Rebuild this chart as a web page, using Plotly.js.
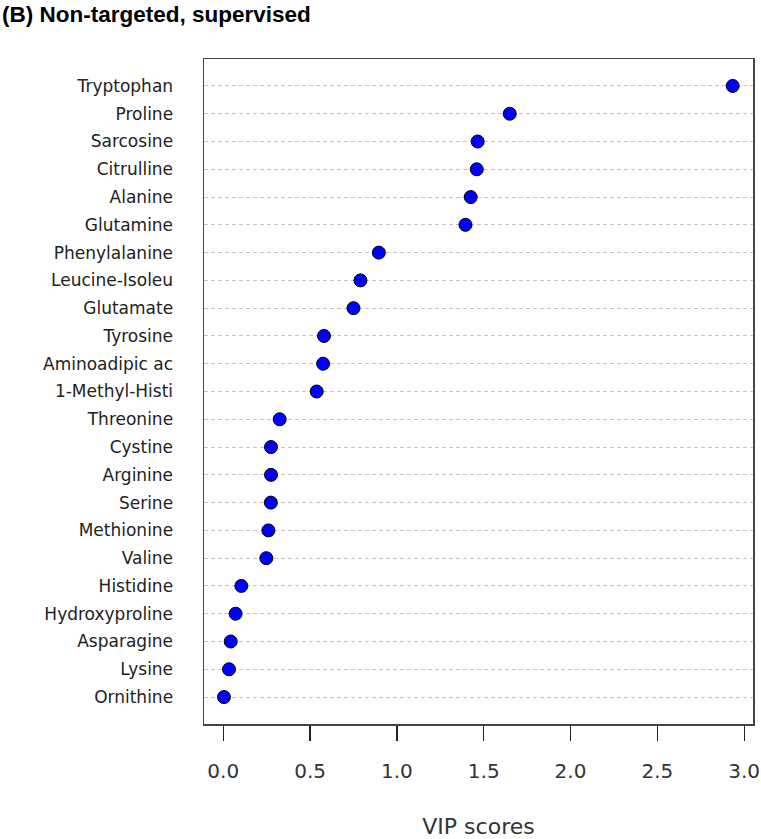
<!DOCTYPE html>
<html>
<head>
<meta charset="utf-8">
<script src="https://cdn.plot.ly/plotly-3.0.1.min.js"></script>
<style>html,body{margin:0;padding:0;background:#fff;}#chart{width:761px;height:839px;}</style>
</head>
<body>
<div id="chart"></div>
<script>
// Categories listed top to bottom
const metabolites = ["Tryptophan","Proline","Sarcosine","Citrulline","Alanine","Glutamine",
  "Phenylalanine","Leucine-Isoleu","Glutamate","Tyrosine","Aminoadipic ac","1-Methyl-Histi",
  "Threonine","Cystine","Arginine","Serine","Methionine","Valine","Histidine",
  "Hydroxyproline","Asparagine","Lysine","Ornithine"];
const vipScores = [2.934,1.65,1.465,1.46,1.425,1.395,
  0.896,0.79,0.75,0.58,0.575,0.538,
  0.325,0.275,0.275,0.274,0.26,0.248,0.104,
  0.071,0.043,0.033,0.004];
const xTickVals = [0,0.5,1,1.5,2,2.5,3];
const xTickText = ["0.0","0.5","1.0","1.5","2.0","2.5","3.0"];
const titleText = "(B) Non-targeted, supervised";
const xTitleText = "VIP scores";

const trace = {
  type: "scatter",
  mode: "markers",
  x: vipScores,
  y: metabolites,
  marker: {color: "#0000FF", size: 13, line: {color: "#000000", width: 1}},
  hoverinfo: "x+y"
};

const layout = {
  width: 761, height: 839,
  margin: {l: 204, r: 8, t: 59, b: 115, pad: 0},
  paper_bgcolor: "#ffffff",
  plot_bgcolor: "#ffffff",
  showlegend: false,
  title: {
    text: "<b>" + titleText + "</b>",
    font: {family: "Liberation Sans, Arial, sans-serif", size: 22.5, color: "#000"},
    xref: "container", yref: "container",
    x: 2/761, xanchor: "left", y: 1 - 6/839, yanchor: "top"
  },
  xaxis: {
    range: [-0.111, 3.051],
    tickvals: xTickVals, ticktext: xTickText,
    ticks: "outside", ticklen: 15, tickwidth: 1.3, tickcolor: "#222",
    showgrid: false, zeroline: false,
    showline: true, mirror: true, linecolor: "#444", linewidth: 1.5,
    tickfont: {family: "DejaVu Sans, sans-serif", size: 20, color: "#333"},
    ticklabelstandoff: 13,
    title: {text: xTitleText, font: {family: "DejaVu Sans, sans-serif", size: 22, color: "#333"}, standoff: 44}
  },
  yaxis: {
    type: "category",
    categoryorder: "array", categoryarray: metabolites,
    range: [22.97, -0.97],
    ticks: "", showgrid: true, gridcolor: "#c4c4c4", gridwidth: 1, griddash: "4px,3px",
    zeroline: false,
    showline: true, mirror: true, linecolor: "#444", linewidth: 1.5,
    tickfont: {family: "DejaVu Sans, sans-serif", size: 17, color: "#222"},
    ticklabelstandoff: 26
  }
};

Plotly.newPlot("chart", [trace], layout, {displayModeBar: false, staticPlot: true});
</script>
</body>
</html>
